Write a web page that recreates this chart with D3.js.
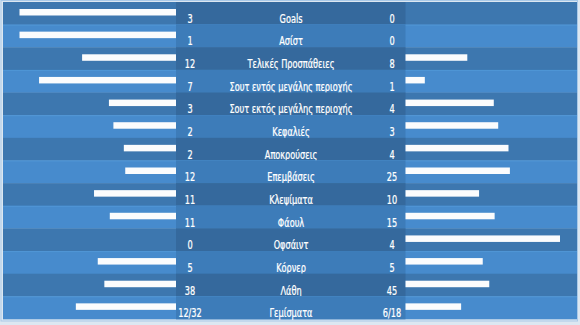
<!DOCTYPE html>
<html><head><meta charset="utf-8">
<script src="https://cdn.jsdelivr.net/npm/d3@7"></script>
<style>
html,body{margin:0;padding:0;background:#dce7f1;}
svg{display:block;}
text{font-family:"DejaVu Sans Condensed","Liberation Sans Narrow","Noto Sans",sans-serif;fill:#fff;}
</style></head>
<body><svg id="c" width="580" height="325"></svg>
<script>
const categories = ["Goals","Ασίστ","Τελικές Προσπάθειες","Σουτ εντός μεγάλης περιοχής","Σουτ εκτός μεγάλης περιοχής","Κεφαλιές","Αποκρούσεις","Επεμβάσεις","Κλεψίματα","Φάουλ","Οφσάιντ","Κόρνερ","Λάθη","Γεμίσματα"];
const homeLabels = ["3","1","12","7","3","2","2","12","11","11","0","5","38","12/32"];
const awayLabels = ["0","0","8","1","4","3","4","25","10","15","4","5","45","6/18"];
const homeValues = [3,1,12,7,3,2,2,12,11,11,0,5,38,32];
const awayValues = [0,0,8,1,4,3,4,25,10,15,4,5,45,18];

(function(){
const svg = d3.select("#c");
const W = 580, H = 325;
const pL = 3, pR = 577, pT = 2, pB = 319;
const cL = 176, cR = 405.5;

svg.append("rect").attr("x",0).attr("y",0).attr("width",W).attr("height",H).attr("fill","#dce7f1");
svg.append("rect").attr("x",1).attr("y",0.5).attr("width",pR-0.5).attr("height",pB+1.5)
  .attr("fill","none").attr("stroke","#a9c9e8").attr("stroke-width",1);

const y = d3.scaleBand().domain(categories).range([pT,pB]).paddingInner(0);
const share = d3.scaleLinear().domain([0,1]);
const xl = share.copy().range([0,156.5]);
const xr = share.copy().range([0,154.5]);

const rows = svg.append("g").selectAll("g").data(categories).join("g")
  .attr("transform",d=>`translate(0,${y(d)})`);
rows.append("rect").attr("x",pL).attr("width",pR-pL).attr("height",y.bandwidth()+0.3)
  .attr("fill",(d,i)=> i%2===0 ? "#3d77af" : "#478bcd");
rows.filter((d,i)=>i%2===1).append("rect").attr("x",pL).attr("width",pR-pL).attr("height",1)
  .attr("fill","#5096d6");
rows.append("rect").attr("x",cL).attr("width",cR-cL).attr("height",y.bandwidth()+0.3)
  .attr("fill",(d,i)=> i%2===0 ? "#35699d" : "#3d7cb9");

const tot = i => homeValues[i]+awayValues[i];
rows.append("rect").attr("y",7).attr("height",6.5)
  .attr("x",(d,i)=> cL - xl(tot(i)? homeValues[i]/tot(i):0))
  .attr("width",(d,i)=> xl(tot(i)? homeValues[i]/tot(i):0))
  .attr("fill","#fbfcfd");
rows.append("rect").attr("y",7).attr("height",6.5)
  .attr("x",cR)
  .attr("width",(d,i)=> xr(tot(i)? awayValues[i]/tot(i):0))
  .attr("fill","#fbfcfd");

const ty = 20.8;
function addText(xpos, fn){
  rows.append("text").attr("transform",`translate(${xpos},${ty}) scale(0.74,1)`)
    .attr("text-anchor","middle").attr("font-size",12.3)
    .attr("stroke","#fff").attr("stroke-width",0.25).text(fn);
}
addText(190, (d,i)=>homeLabels[i]);
addText(291, d=>d);
addText(392, (d,i)=>awayLabels[i]);
})();
</script></body></html>
